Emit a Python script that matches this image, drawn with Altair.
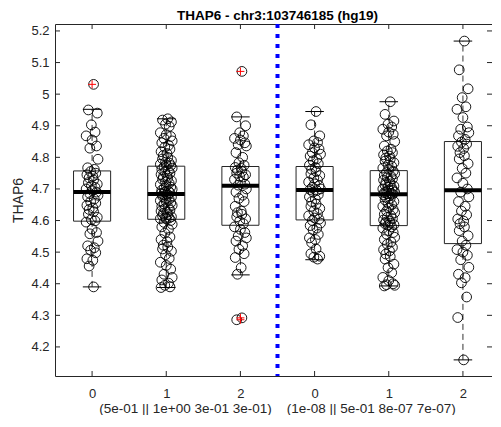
import altair as alt
import pandas as pd

title_text = "THAP6 - chr3:103746185 (hg19)"
y_label = "THAP6"
group_ticks = ["0", "1", "2", "0", "1", "2"]
x_label = "(5e-01 || 1e+00 3e-01 3e-01)\u00a0\u00a0\u00a0\u00a0(1e-08 || 5e-01 8e-07 7e-07)"
y_ticks = [4.2, 4.3, 4.4, 4.5, 4.6, 4.7, 4.8, 4.9, 5.0, 5.1, 5.2]

# observed values per group (scatter)
g0 = [5.031, 4.950, 4.940, 4.903, 4.880, 4.868, 4.855, 4.836, 4.829, 4.794, 4.767, 4.762,
      4.755, 4.750, 4.745, 4.740, 4.735, 4.728, 4.720, 4.715, 4.710, 4.705, 4.700, 4.695, 4.690,
      4.685, 4.680, 4.675, 4.668, 4.660, 4.655, 4.648, 4.640, 4.635, 4.628, 4.620, 4.610, 4.603,
      4.599, 4.595, 4.573, 4.562, 4.558, 4.535, 4.520, 4.514, 4.506, 4.498, 4.479, 4.474, 4.456, 4.390]
g1 = [4.922, 4.918, 4.912, 4.905, 4.898, 4.878, 4.872, 4.866, 4.860, 4.852, 4.846, 4.838, 4.832,
      4.826, 4.818, 4.812, 4.806, 4.800, 4.795, 4.790, 4.785, 4.782, 4.778, 4.776, 4.774,
      4.770, 4.766, 4.762, 4.758, 4.754, 4.750, 4.746, 4.742, 4.738, 4.734, 4.730, 4.726, 4.722,
      4.718, 4.714, 4.710, 4.706, 4.702, 4.699, 4.696, 4.693, 4.690, 4.688, 4.686, 4.685,
      4.683, 4.680, 4.677, 4.674, 4.670, 4.667, 4.663, 4.660, 4.656, 4.652, 4.648, 4.645, 4.641,
      4.637, 4.633, 4.630, 4.626, 4.622, 4.619, 4.615, 4.612, 4.610, 4.608, 4.606, 4.605,
      4.600, 4.594, 4.588, 4.580, 4.572, 4.560, 4.548, 4.540, 4.533, 4.522, 4.516, 4.510, 4.503,
      4.492, 4.480, 4.468, 4.458, 4.446, 4.430, 4.420, 4.412, 4.402, 4.395, 4.390, 4.388]
g2 = [5.072, 4.928, 4.900, 4.878, 4.868, 4.860, 4.855, 4.846, 4.840, 4.836, 4.815, 4.800, 4.783, 4.775,
      4.768, 4.765, 4.760, 4.755, 4.750, 4.745, 4.740, 4.738, 4.730, 4.722, 4.715, 4.712,
      4.700, 4.690, 4.680, 4.670, 4.660, 4.645, 4.630, 4.625, 4.620, 4.612, 4.605, 4.598, 4.590,
      4.580, 4.572, 4.562, 4.551, 4.545, 4.535, 4.520, 4.509, 4.495, 4.483, 4.451, 4.430,
      4.292, 4.286]
g3 = [4.945, 4.903, 4.868, 4.852, 4.847, 4.840, 4.830, 4.826, 4.815, 4.810, 4.804, 4.795, 4.789, 4.780, 4.775,
      4.768, 4.762, 4.755, 4.748, 4.742, 4.735, 4.728, 4.722, 4.716, 4.710, 4.705, 4.700, 4.698,
      4.695, 4.690, 4.682, 4.675, 4.668, 4.660, 4.652, 4.645, 4.638, 4.630, 4.622, 4.615, 4.608, 4.604,
      4.600, 4.592, 4.584, 4.576, 4.570, 4.556, 4.545, 4.540, 4.530, 4.510, 4.495, 4.487, 4.484, 4.478]
g4 = [4.976, 4.936, 4.915, 4.905, 4.896, 4.889, 4.880, 4.873, 4.868, 4.850, 4.836, 4.826, 4.820,
      4.815, 4.808, 4.804, 4.798, 4.794, 4.788, 4.783, 4.776, 4.772, 4.766, 4.762,
      4.756, 4.752, 4.748, 4.744, 4.740, 4.736, 4.732, 4.728, 4.724, 4.720, 4.716, 4.712, 4.709,
      4.706, 4.703, 4.700, 4.697, 4.695, 4.692, 4.690, 4.688, 4.686, 4.685, 4.684,
      4.682, 4.678, 4.674, 4.670, 4.665, 4.660, 4.655, 4.650, 4.645, 4.640, 4.635, 4.630, 4.625,
      4.620, 4.615, 4.610, 4.606, 4.602, 4.598, 4.595, 4.592, 4.590, 4.587, 4.585,
      4.580, 4.576, 4.568, 4.562, 4.557, 4.547, 4.540, 4.532, 4.525, 4.515, 4.508, 4.504, 4.494,
      4.486, 4.478, 4.462, 4.451, 4.435, 4.420, 4.410, 4.400, 4.397, 4.395, 4.393]
g5 = [5.168, 5.077, 5.017, 4.989, 4.960, 4.952, 4.926, 4.896, 4.889, 4.878, 4.868, 4.857,
      4.848, 4.842, 4.835, 4.828, 4.815, 4.805, 4.795, 4.780, 4.765, 4.750, 4.735, 4.718, 4.700,
      4.690, 4.675, 4.660, 4.645, 4.630, 4.618, 4.605, 4.598, 4.590, 4.580, 4.568, 4.552, 4.535,
      4.522, 4.508, 4.500, 4.490, 4.476, 4.452, 4.430, 4.419, 4.403, 4.358, 4.293, 4.159]
groups = [g0, g1, g2, g3, g4, g5]

# box statistics
q1 = [4.598, 4.604, 4.585, 4.602, 4.584, 4.527]
med = [4.690, 4.684, 4.710, 4.697, 4.683, 4.696]
q3 = [4.757, 4.772, 4.771, 4.771, 4.758, 4.850]
w_lo = [4.390, 4.388, 4.428, 4.476, 4.393, 4.159]
w_hi = [4.952, 4.922, 4.928, 4.945, 4.976, 5.168]

out_group = [0, 2, 2, 2]
out_value = [5.031, 5.072, 4.292, 4.286]

# horizontal jitter pattern (category units)
jitter = [0.02, -0.05, 0.07, -0.01, 0.04, -0.08, 0.00, 0.06, -0.03, 0.08,
          -0.06, 0.03, -0.02, 0.05, -0.07, 0.01, -0.04]

pts = pd.DataFrame(
    [{"x": i + jitter[k % len(jitter)], "v": v} for i, g in enumerate(groups) for k, v in enumerate(g)]
)
boxes = pd.DataFrame({"pos": list(range(6)), "q1": q1, "med": med, "q3": q3, "lo": w_lo, "hi": w_hi})
outs = pd.DataFrame({"x": out_group, "v": out_value})
ticks_y = pd.DataFrame({"v": y_ticks})
ticks_x = pd.DataFrame({"x": list(range(6))})

W, H = 437, 352
FONT = "Liberation Sans"
xs = alt.Scale(domain=[-0.5, 5.392], nice=False, zero=False)
ys = alt.Scale(domain=[4.108, 5.222], nice=False, zero=False)

label_expr = "[" + ",".join("'%s'" % t for t in group_ticks) + "][datum.value]"

x_axis = alt.Axis(
    values=list(range(6)), labelExpr=label_expr, ticks=False, domain=False, grid=False,
    labelFont=FONT, labelFontSize=13, labelColor="#262626", labelPadding=11,
    title=x_label, titleFont=FONT, titleFontSize=13.5, titleFontWeight="normal",
    titleColor="#262626", titleX=222, titleY=32.5, titleBaseline="middle", titleAlign="center")
y_axis = alt.Axis(
    values=y_ticks, format=".1~f", ticks=False, domain=False, grid=False,
    labelFont=FONT, labelFontSize=13, labelColor="#262626", labelPadding=6,
    title=y_label, titleFont=FONT, titleFontSize=14, titleFontWeight="normal",
    titleColor="#262626", titleX=-37, titleY=H / 2, titleAngle=270,
    titleBaseline="middle", titleAlign="center")


def X(f):
    return alt.X(f, scale=xs, axis=x_axis)


def Y(f):
    return alt.Y(f, scale=ys, axis=y_axis)


points = alt.Chart(pts).mark_point(
    shape="circle", filled=False, size=95, stroke="black", strokeWidth=0.9, opacity=1
).encode(x=X("x:Q"), y=Y("v:Q"))

base_box = alt.Chart(boxes).transform_calculate(
    left="datum.pos - 0.25", right="datum.pos + 0.25",
    capl="datum.pos - 0.125", capr="datum.pos + 0.125",
)

box = base_box.mark_rect(filled=False, stroke="#262626", strokeWidth=1).encode(
    x=X("left:Q"), x2="right:Q", y=Y("q1:Q"), y2="q3:Q")
wh_up = base_box.mark_rule(color="#333333", strokeWidth=1, strokeDash=[6, 4]).encode(
    x=X("pos:Q"), y=Y("q3:Q"), y2="hi:Q")
wh_dn = base_box.mark_rule(color="#333333", strokeWidth=1, strokeDash=[6, 4]).encode(
    x=X("pos:Q"), y=Y("lo:Q"), y2="q1:Q")
cap_hi = base_box.mark_rule(color="black", strokeWidth=1).encode(
    x=X("capl:Q"), x2="capr:Q", y=Y("hi:Q"))
cap_lo = base_box.mark_rule(color="black", strokeWidth=1).encode(
    x=X("capl:Q"), x2="capr:Q", y=Y("lo:Q"))
median = base_box.mark_rule(color="black", strokeWidth=4).encode(
    x=X("left:Q"), x2="right:Q", y=Y("med:Q"))
outlier = alt.Chart(outs).mark_point(
    shape="M-1,0L1,0M0,-1L0,1", filled=False, size=64, stroke="red", strokeWidth=1, opacity=1
).encode(x=X("x:Q"), y=Y("v:Q"))

divider = alt.Chart(pd.DataFrame({"x": [2.5]})).mark_rule(
    color="#0000ff", strokeWidth=4, strokeDash=[4, 6], strokeCap="butt"
).encode(x=X("x:Q"))

tk_left = alt.Chart(ticks_y).mark_rule(color="#262626", strokeWidth=1).encode(
    y=Y("v:Q"), x=alt.value(0), x2=alt.value(5))
tk_right = alt.Chart(ticks_y).mark_rule(color="#262626", strokeWidth=1).encode(
    y=Y("v:Q"), x=alt.value(W - 5), x2=alt.value(W))
tk_top = alt.Chart(ticks_x).mark_rule(color="#262626", strokeWidth=1).encode(
    x=X("x:Q"), y=alt.value(0), y2=alt.value(5))
tk_bot = alt.Chart(ticks_x).mark_rule(color="#262626", strokeWidth=1).encode(
    x=X("x:Q"), y=alt.value(H - 5), y2=alt.value(H))

chart = alt.layer(
    box, wh_up, wh_dn, cap_hi, cap_lo, points, median, outlier, divider,
    tk_left, tk_right, tk_top, tk_bot,
).properties(
    width=W, height=H,
    title=alt.TitleParams(title_text, font=FONT, fontSize=13.5, fontWeight="bold",
                          color="black", anchor="middle", offset=0, dx=4),
    autosize=alt.AutoSizeParams(type="none"),
    padding={"left": 47, "top": 16, "right": 0, "bottom": 39},
).configure_view(stroke="#262626", strokeWidth=1)

chart.save("out.html", embed_options={"renderer": "svg", "actions": False})
